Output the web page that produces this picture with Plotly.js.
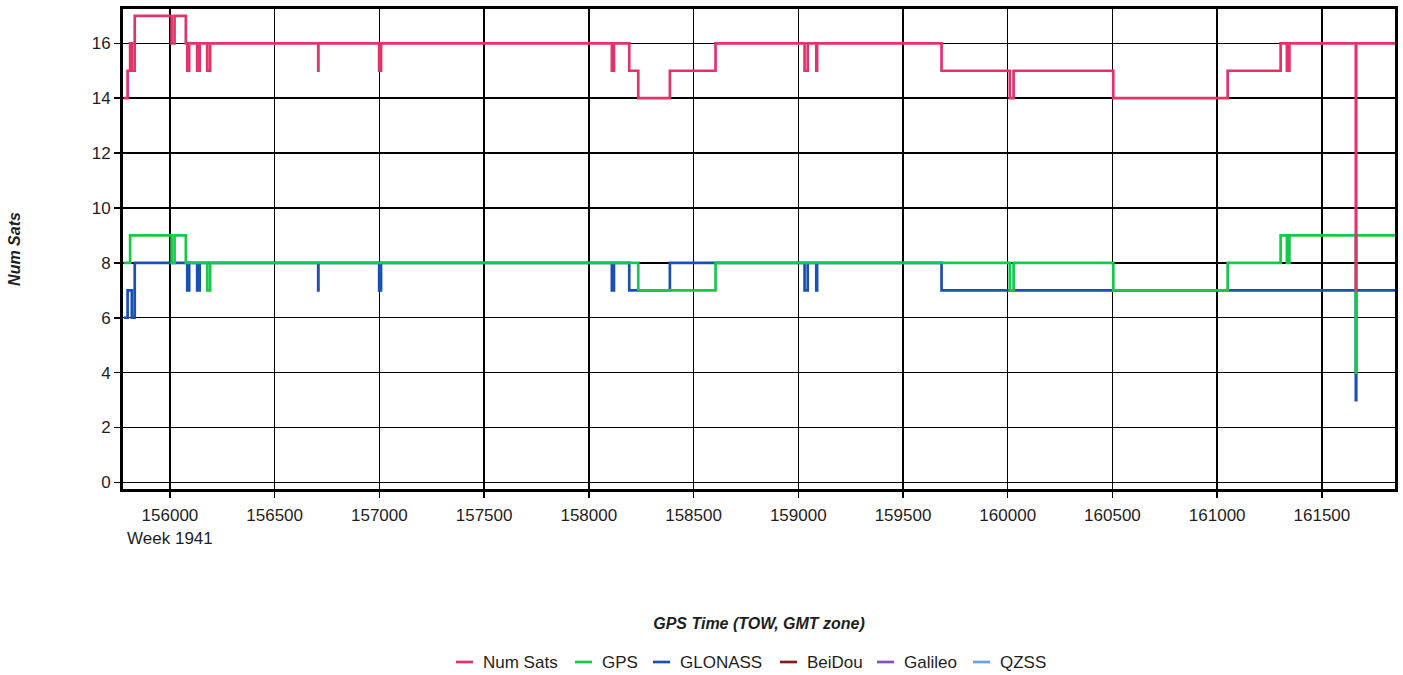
<!DOCTYPE html>
<html>
<head>
<meta charset="utf-8">
<script src="https://cdn.plot.ly/plotly-3.0.1.min.js"></script>
<style>
  html, body { margin: 0; padding: 0; background: #ffffff; }
  #chart { width: 1403px; height: 675px; }
</style>
</head>
<body>
<div id="chart"></div>
<script>
// ---------- data (GPS time-of-week, satellite counts; step changes) ----------
const seriesNames = ['Num Sats', 'GPS', 'GLONASS', 'BeiDou', 'Galileo', 'QZSS'];
const seriesColors = ['#E3336B', '#17C94A', '#1A4FB4', '#8B1A1A', '#8A4FBF', '#6B9FF2'];

const numSatsTime = [155780, 155798, 155810, 155818, 155832, 156008, 156022, 156076, 156083, 156092,
  156130, 156142, 156178, 156192, 156708, 156709, 156999, 157008, 158110, 158120,
  158193, 158236, 158387, 158605, 159030, 159045, 159086, 159090, 159684, 160010,
  160028, 160504, 161050, 161303, 161333, 161345, 161662, 161664, 161849];
const numSatsValue = [14, 15, 16, 15, 17, 16, 17, 16, 15, 16,
  15, 16, 15, 16, 15, 16, 15, 16, 15, 16,
  15, 14, 15, 16, 15, 16, 15, 16, 15, 14,
  15, 14, 15, 16, 15, 16, 7, 16, 16];

const gpsTime = [155780, 155810, 156008, 156022, 156076, 156178, 156192, 158236, 158605, 160010,
  160028, 160504, 161050, 161303, 161333, 161345, 161662, 161664, 161849];
const gpsValue = [8, 9, 8, 9, 8, 7, 8, 7, 8, 7,
  8, 7, 8, 9, 8, 9, 4, 9, 9];

const glonassTime = [155780, 155798, 155818, 155832, 156083, 156092, 156130, 156142, 156708, 156709,
  156999, 157008, 158110, 158120, 158193, 158387, 159030, 159045, 159086, 159090,
  159684, 161662, 161664, 161849];
const glonassValue = [6, 7, 6, 8, 7, 8, 7, 8, 7, 8,
  7, 8, 7, 8, 7, 8, 7, 8, 7, 8,
  7, 3, 7, 7];

const beidouTime = [], beidouValue = [];
const galileoTime = [], galileoValue = [];
const qzssTime = [], qzssValue = [];

const xTickValues = [156000, 156500, 157000, 157500, 158000, 158500, 159000, 159500, 160000, 160500, 161000, 161500];
const xTickLabels = ['156000<br>Week 1941', '156500', '157000', '157500', '158000', '158500', '159000', '159500', '160000', '160500', '161000', '161500'];
const yTickValues = [0, 2, 4, 6, 8, 10, 12, 14, 16];

// ---------- layout constants ----------
const W = 1403, H = 675;
const M = { l: 123, r: 8, t: 9, b: 186 };
const plotW = W - M.l - M.r, plotH = H - M.t - M.b;
const px2x = p => (p - M.l) / plotW;
const py2y = p => (H - M.b - p) / plotH;
const FONT = 'Liberation Sans, Arial, Helvetica, sans-serif';
const TEXT = '#1e1e1e';

function step(name, idx, x, y) {
  return {
    type: 'scatter', mode: 'lines', name: name, x: x, y: y,
    line: { color: seriesColors[idx], width: 2.7, shape: 'hv' },
    showlegend: false, hoverinfo: 'x+y+name'
  };
}

// draw order: GLONASS under GPS under Num Sats
const traces = [
  step(seriesNames[5], 5, qzssTime, qzssValue),
  step(seriesNames[4], 4, galileoTime, galileoValue),
  step(seriesNames[3], 3, beidouTime, beidouValue),
  step(seriesNames[2], 2, glonassTime, glonassValue),
  step(seriesNames[1], 1, gpsTime, gpsValue),
  step(seriesNames[0], 0, numSatsTime, numSatsValue)
];

// custom compact legend (short line symbols) below the x-axis title
const legendSymStart = [456, 575, 653, 780, 877, 973];
const legendY = 662;
const shapes = [], annotations = [];
seriesNames.forEach((n, i) => {
  shapes.push({
    type: 'line', xref: 'paper', yref: 'paper',
    x0: px2x(legendSymStart[i]), x1: px2x(legendSymStart[i] + 17),
    y0: py2y(legendY), y1: py2y(legendY),
    line: { color: seriesColors[i], width: 2.7 }
  });
  annotations.push({
    xref: 'paper', yref: 'paper', x: px2x(legendSymStart[i] + 25), y: py2y(legendY),
    xanchor: 'left', yanchor: 'middle', showarrow: false, text: n,
    font: { family: FONT, size: 17, color: TEXT }
  });
});

const axisCommon = {
  showline: true, linecolor: '#000', linewidth: 3, mirror: true,
  showgrid: true, gridcolor: '#000', gridwidth: 1.4,
  zeroline: false,
  ticks: 'outside', ticklen: 6, tickwidth: 1.5, tickcolor: '#000',
  tickfont: { family: FONT, size: 17, color: TEXT },
  fixedrange: true
};

const layout = {
  width: W, height: H,
  margin: M,
  paper_bgcolor: '#ffffff', plot_bgcolor: '#ffffff',
  showlegend: false,
  font: { family: FONT, color: TEXT },
  xaxis: Object.assign({}, axisCommon, {
    range: [155776, 161849],
    tickmode: 'array', tickvals: xTickValues, ticktext: xTickLabels,
    ticklabelstandoff: 3,
    title: { text: '<b><i>GPS Time (TOW, GMT zone)</i></b>', standoff: 72,
      font: { family: FONT, size: 16, color: TEXT } },
    automargin: false
  }),
  yaxis: Object.assign({}, axisCommon, {
    range: [-0.24, 17.25],
    tickmode: 'array', tickvals: yTickValues,
    title: { text: '<b><i>Num Sats</i></b>', standoff: 68,
      font: { family: FONT, size: 16, color: TEXT } },
    automargin: false
  }),
  shapes: shapes,
  annotations: annotations
};

Plotly.newPlot('chart', traces, layout, { staticPlot: true, displayModeBar: false });
</script>
</body>
</html>
